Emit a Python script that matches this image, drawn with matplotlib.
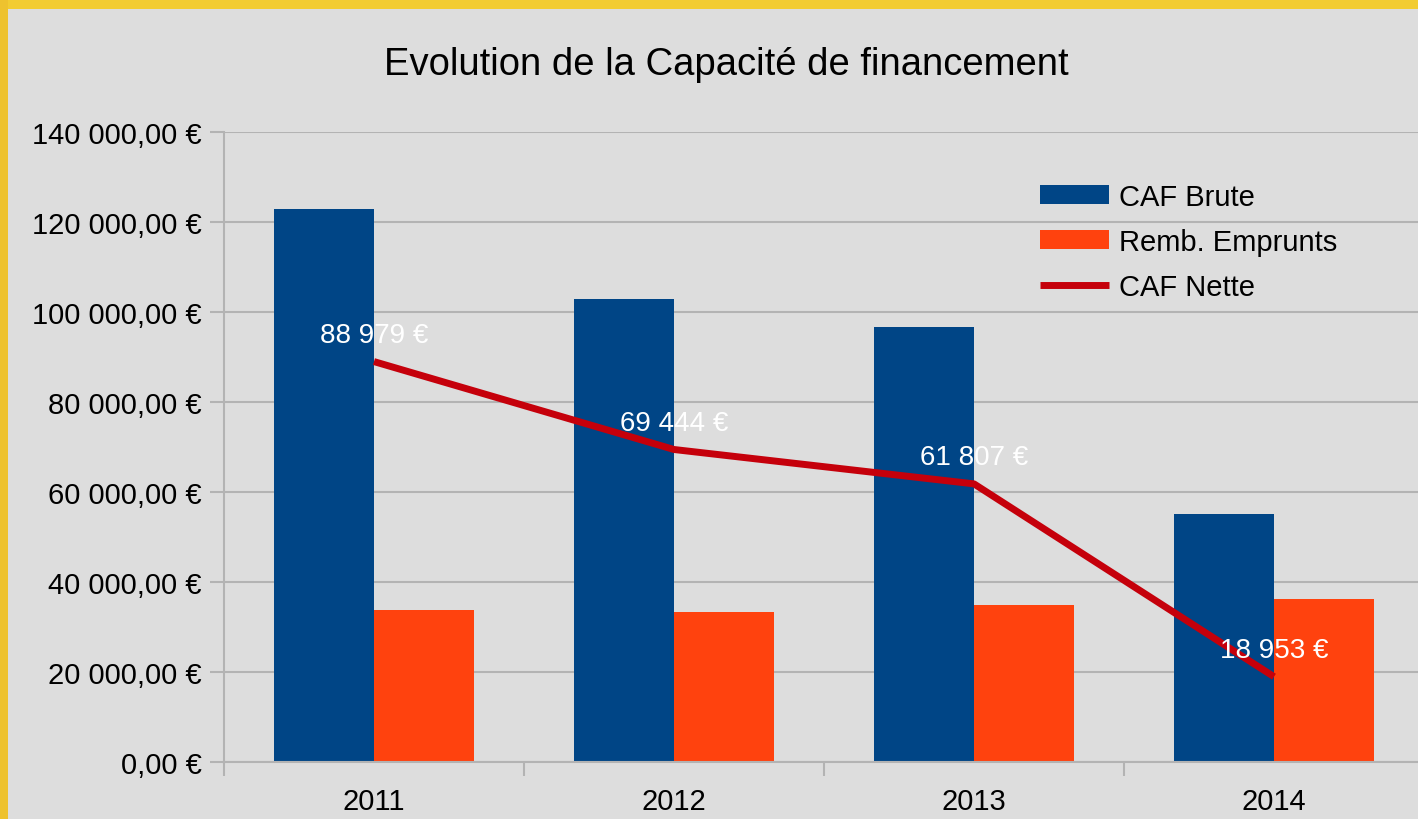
import matplotlib
matplotlib.use("Agg")
import matplotlib.pyplot as plt
from matplotlib.patches import Rectangle
from matplotlib.ticker import FuncFormatter
import numpy as np

plt.rcParams['font.family'] = ['Liberation Sans', 'DejaVu Sans']

years = ['2011', '2012', '2013', '2014']
caf_brute = [122850, 102850, 96700, 55150]
remb_emprunts = [33871, 33406, 34893, 36197]
caf_nette = [88979, 69444, 61807, 18953]
nette_labels = ['88 979 €', '69 444 €', '61 807 €', '18 953 €']

bg = '#dddddd'
fig = plt.figure(figsize=(14.18, 8.2), dpi=100)
fig.patch.set_facecolor(bg)

# yellow frame on top / left
fig.patches.append(Rectangle((0, 1 - 10 / 820), 1, 10 / 820, transform=fig.transFigure,
                             facecolor='#f2cc32', edgecolor='none', zorder=0))
fig.patches.append(Rectangle((0, 0), 8 / 1418, 1, transform=fig.transFigure,
                             facecolor='#eec22e', edgecolor='none', zorder=0))

ax = fig.add_axes([224 / 1418, 1 - 763 / 820, 1200 / 1418, 630 / 820])
ax.set_facecolor(bg)

x = np.arange(len(years))
w = 1 / 3
b1 = ax.bar(x - w / 2, caf_brute, w, color='#004586', label='CAF Brute', zorder=2)
b2 = ax.bar(x + w / 2, remb_emprunts, w, color='#ff420e', label='Remb. Emprunts', zorder=2)
l1, = ax.plot(x, caf_nette, color='#c5000b', lw=5, label='CAF Nette', zorder=3,
              solid_capstyle='butt')

for xi, v, t in zip(x, caf_nette, nette_labels):
    ax.annotate(t, (xi, v), xytext=(0, 10), textcoords='offset points',
                ha='center', va='bottom', color='white', fontsize=20, zorder=4)

ax.set_xlim(-0.5, 3.5)
ax.set_ylim(0, 140000)
ax.set_yticks(np.arange(0, 140001, 20000))
ax.yaxis.set_major_formatter(FuncFormatter(
    lambda v, p: '{:,.2f} €'.format(v).replace(',', ' ').replace('.', ',')))
ax.set_xticks(x)
ax.set_xticklabels(years)
ax.set_xticks(np.arange(-0.5, 3.6, 1), minor=True)
ax.tick_params(axis='x', which='major', length=0, labelsize=21, pad=18)
ax.tick_params(axis='x', which='minor', length=10, color='#b3b3b3', width=1.5)
ax.tick_params(axis='y', length=10, color='#b3b3b3', width=1.5, labelsize=21, pad=6)
ax.grid(axis='y', color='#b3b3b3', lw=1.5, zorder=1)
for s in ['top', 'right']:
    ax.spines[s].set_visible(False)
for s in ['left', 'bottom']:
    ax.spines[s].set_color('#b3b3b3')
    ax.spines[s].set_linewidth(1.5)

ax.legend([b1, b2, l1], ['CAF Brute', 'Remb. Emprunts', 'CAF Nette'],
          loc='upper left', bbox_to_anchor=(1040 / 1418, 1 - 184 / 820),
          bbox_transform=fig.transFigure, borderpad=0, borderaxespad=0,
          frameon=False, fontsize=21, handlelength=2.35, handleheight=0.62,
          labelspacing=0.58, handletextpad=0.35)

fig.text(0.512, 1 - 65 / 820, 'Evolution de la Capacité de financement',
         ha='center', va='center', fontsize=27.5)

fig.savefig('out.png', dpi=100, facecolor=bg)
